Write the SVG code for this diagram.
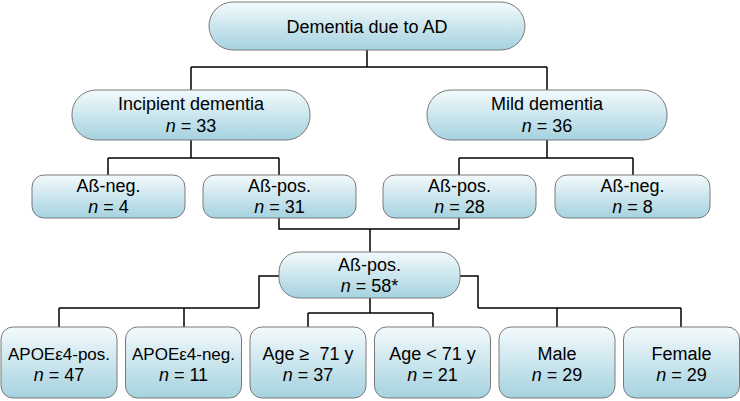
<svg xmlns="http://www.w3.org/2000/svg" width="740" height="401" viewBox="0 0 740 401">
<defs>
<linearGradient id="g" x1="0" y1="0" x2="0" y2="1">
<stop offset="0" stop-color="#f3fafc"/>
<stop offset="1" stop-color="#a5d2df"/>
</linearGradient>
<style>
.n rect{fill:url(#g);stroke:#7a7a7a;stroke-width:1}
.n text{font-family:"Liberation Sans",Arial,sans-serif;font-size:18px;fill:#000;text-anchor:middle}
.n text.s{font-size:17px}
.i{font-style:italic}
#connectors path{fill:none;stroke:#000;stroke-width:1.5}
</style>
</defs>
<rect width="740" height="401" fill="#fff"/>
<g id="connectors">
<path d="M367 50V67M191 67H547M191 67V90M547 67V90"/>
<path d="M191 140V158M108 158H279M108 158V175M279 158V175"/>
<path d="M547 140V158M459 158H633M459 158V175M633 158V175"/>
<path d="M279 218V229H459V218M370 229V252"/>
<path d="M279 276H259V308M59 308H259M59 308V327M184 308V327"/>
<path d="M370 298V313M308 313H433M308 313V327M433 313V327"/>
<path d="M460 276H478V308M478 308H681M557 308V327M681 308V327"/>
</g>
<g id="root" class="n"><rect x="209" y="2" width="316" height="48" rx="24"/><text x="367" y="33">Dementia due to AD</text></g>
<g id="incipient" class="n"><rect x="72" y="90" width="238" height="50" rx="24"/><text x="191" y="110">Incipient dementia</text><text x="191" y="132"><tspan class="i">n</tspan> = 33</text></g>
<g id="mild" class="n"><rect x="427" y="90" width="240" height="50" rx="24"/><text x="547" y="110">Mild dementia</text><text x="547" y="132"><tspan class="i">n</tspan> = 36</text></g>
<g id="incNeg" class="n"><rect x="32" y="175" width="153" height="43" rx="12"/><text x="108.5" y="192">Aß-neg.</text><text x="108.5" y="213"><tspan class="i">n</tspan> = 4</text></g>
<g id="incPos" class="n"><rect x="203" y="175" width="153" height="43" rx="12"/><text x="279.5" y="192">Aß-pos.</text><text x="279.5" y="213"><tspan class="i">n</tspan> = 31</text></g>
<g id="mildPos" class="n"><rect x="383" y="175" width="153" height="43" rx="12"/><text x="459.5" y="192">Aß-pos.</text><text x="459.5" y="213"><tspan class="i">n</tspan> = 28</text></g>
<g id="mildNeg" class="n"><rect x="555" y="175" width="155" height="43" rx="12"/><text x="632.5" y="192">Aß-neg.</text><text x="632.5" y="213"><tspan class="i">n</tspan> = 8</text></g>
<g id="allPos" class="n"><rect x="279" y="252" width="181" height="46" rx="20"/><text x="369.5" y="271">Aß-pos.</text><text x="369.5" y="292"><tspan class="i">n</tspan> = 58*</text></g>
<g id="apoePos" class="n"><rect x="1" y="327" width="116" height="71" rx="12"/><text class="s" x="59" y="360">APOEε4-pos.</text><text x="59" y="381"><tspan class="i">n</tspan> = 47</text></g>
<g id="apoeNeg" class="n"><rect x="125.5" y="327" width="116" height="71" rx="12"/><text class="s" x="183.5" y="360">APOEε4-neg.</text><text x="183.5" y="381"><tspan class="i">n</tspan> = 11</text></g>
<g id="ageHigh" class="n"><rect x="250" y="327" width="116" height="71" rx="12"/><text x="308" y="360">Age ≥&#160; 71 y</text><text x="308" y="381"><tspan class="i">n</tspan> = 37</text></g>
<g id="ageLow" class="n"><rect x="374.5" y="327" width="116" height="71" rx="12"/><text x="432.5" y="360">Age &lt; 71 y</text><text x="432.5" y="381"><tspan class="i">n</tspan> = 21</text></g>
<g id="male" class="n"><rect x="499" y="327" width="116" height="71" rx="12"/><text x="557" y="360">Male</text><text x="557" y="381"><tspan class="i">n</tspan> = 29</text></g>
<g id="female" class="n"><rect x="623.5" y="327" width="116" height="71" rx="12"/><text x="681.5" y="360">Female</text><text x="681.5" y="381"><tspan class="i">n</tspan> = 29</text></g>
</svg>
